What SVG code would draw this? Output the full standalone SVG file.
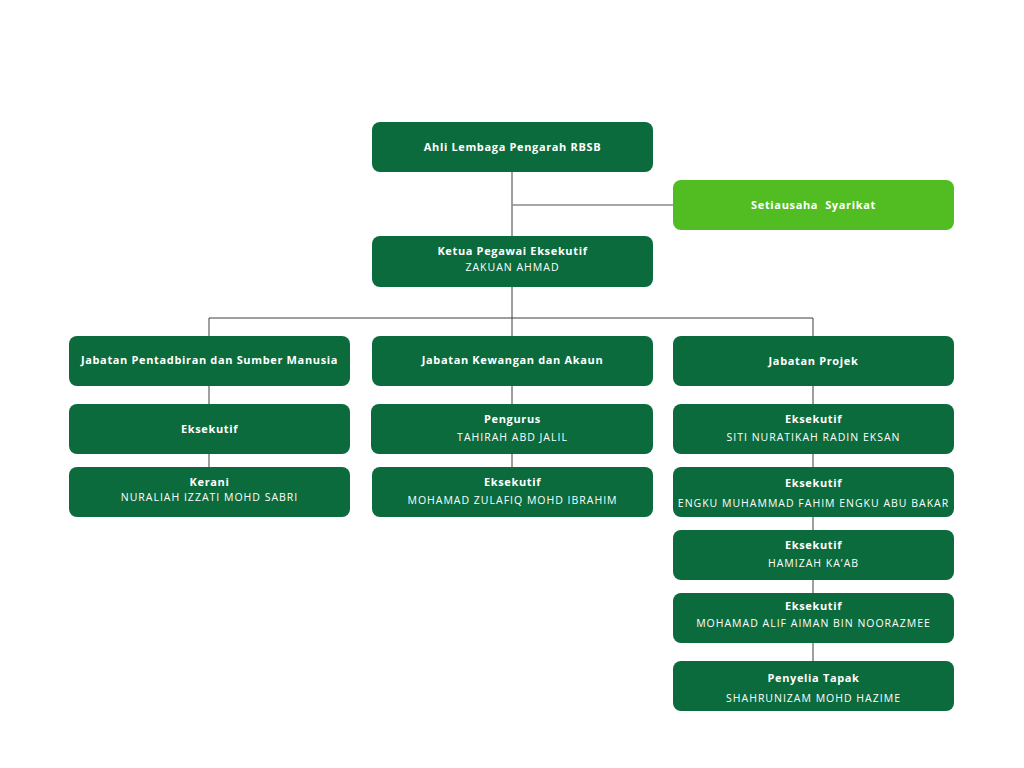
<svg xmlns="http://www.w3.org/2000/svg" width="1024" height="768" viewBox="0 0 1024 768">
<style>
.n{fill:#0b6b3d}
.s{fill:#52bd23}
.t{font-family:"Open Sans","Liberation Sans",sans-serif;font-size:11px;font-weight:700;fill:#ffffff;text-anchor:middle;letter-spacing:0.65px}
.m{font-family:"Open Sans","Liberation Sans",sans-serif;font-size:10.5px;font-weight:400;fill:#ffffff;text-anchor:middle;letter-spacing:1px}
.c line{stroke:#3f3f3f;stroke-width:1}
</style>
<rect width="1024" height="768" fill="#ffffff"/>
<g class="c">
<line x1="512" y1="172" x2="512" y2="336"/>
<line x1="512" y1="205" x2="673" y2="205" style="stroke:#8a8a8a;stroke-width:1.5"/>
<line x1="209" y1="318" x2="813" y2="318"/>
<line x1="209" y1="318" x2="209" y2="467"/>
<line x1="512" y1="386" x2="512" y2="467"/>
<line x1="813" y1="318" x2="813" y2="661"/>
</g>
<g id="ahli"><rect class="n" x="372" y="122" width="281" height="50" rx="8"/><text class="t" x="512.5" y="151">Ahli Lembaga Pengarah RBSB</text></g>
<g id="setiausaha"><rect class="s" x="673" y="180" width="281" height="50" rx="8"/><text class="t" x="813.5" y="209" xml:space="preserve">Setiausaha  Syarikat</text></g>
<g id="ketua"><rect class="n" x="372" y="236" width="281" height="51" rx="8"/><text class="t" x="512.5" y="255">Ketua Pegawai Eksekutif</text><text class="m" x="512.5" y="271">ZAKUAN AHMAD</text></g>
<g id="pentadbiran"><rect class="n" x="69" y="336" width="281" height="50" rx="8"/><text class="t" x="209.5" y="364">Jabatan Pentadbiran dan Sumber Manusia</text></g>
<g id="kewangan"><rect class="n" x="372" y="336" width="281" height="50" rx="8"/><text class="t" x="512.5" y="364">Jabatan Kewangan dan Akaun</text></g>
<g id="projek"><rect class="n" x="673" y="336" width="281" height="50" rx="8"/><text class="t" x="813.5" y="365">Jabatan Projek</text></g>
<g id="eksekutif-pentadbiran"><rect class="n" x="69" y="404" width="281" height="50" rx="8"/><text class="t" x="209.5" y="433">Eksekutif</text></g>
<g id="pengurus"><rect class="n" x="371" y="404" width="282" height="50" rx="8"/><text class="t" x="512.5" y="423">Pengurus</text><text class="m" x="512.5" y="441">TAHIRAH ABD JALIL</text></g>
<g id="eksekutif-siti"><rect class="n" x="673" y="404" width="281" height="50" rx="8"/><text class="t" x="813.5" y="423">Eksekutif</text><text class="m" x="813.5" y="441">SITI NURATIKAH RADIN EKSAN</text></g>
<g id="kerani"><rect class="n" x="69" y="467" width="281" height="50" rx="8"/><text class="t" x="209.5" y="486">Kerani</text><text class="m" x="209.5" y="501">NURALIAH IZZATI MOHD SABRI</text></g>
<g id="eksekutif-zulafiq"><rect class="n" x="372" y="467" width="281" height="50" rx="8"/><text class="t" x="512.5" y="486">Eksekutif</text><text class="m" x="512.5" y="504">MOHAMAD ZULAFIQ MOHD IBRAHIM</text></g>
<g id="eksekutif-engku"><rect class="n" x="673" y="467" width="281" height="50" rx="8"/><text class="t" x="813.5" y="487">Eksekutif</text><text class="m" x="813.5" y="507">ENGKU MUHAMMAD FAHIM ENGKU ABU BAKAR</text></g>
<g id="eksekutif-hamizah"><rect class="n" x="673" y="530" width="281" height="50" rx="8"/><text class="t" x="813.5" y="549">Eksekutif</text><text class="m" x="813.5" y="567">HAMIZAH KA’AB</text></g>
<g id="eksekutif-alif"><rect class="n" x="673" y="593" width="281" height="50" rx="8"/><text class="t" x="813.5" y="610">Eksekutif</text><text class="m" x="813.5" y="627">MOHAMAD ALIF AIMAN BIN NOORAZMEE</text></g>
<g id="penyelia"><rect class="n" x="673" y="661" width="281" height="50" rx="8"/><text class="t" x="813.5" y="682">Penyelia Tapak</text><text class="m" x="813.5" y="702">SHAHRUNIZAM MOHD HAZIME</text></g>
</svg>
